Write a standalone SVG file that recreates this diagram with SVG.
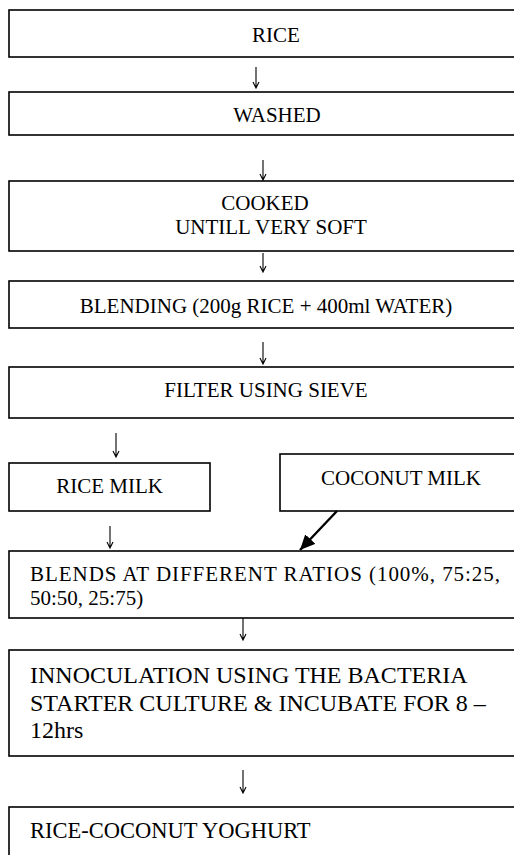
<svg xmlns="http://www.w3.org/2000/svg" width="514" height="855" viewBox="0 0 514 855">
<style>
  .box { fill: #ffffff; stroke: #000000; stroke-width: 1.6; }
  .t { font-family: "Liberation Serif", "Times New Roman", serif; font-size: 21px; fill: #000000; }
  .c { text-anchor: middle; }
  .big { font-size: 24px; }
  .mid { font-size: 22.5px; }
  .arr { fill: none; stroke: #000000; stroke-width: 1.1; }
  .thick { fill: none; stroke: #000000; stroke-width: 2.4; }
</style>
<defs>
  <marker id="head" markerUnits="userSpaceOnUse" markerWidth="16" markerHeight="14" refX="15" refY="7" orient="auto">
    <path d="M0,0 L15,7 L0,14 Z" fill="#000000"/>
  </marker>
</defs>
<rect width="514" height="855" fill="#ffffff"/>
<g id="rice">
  <rect class="box" x="9" y="10" width="530" height="47"/>
  <text class="t c" x="276" y="42">RICE</text>
</g>
<g id="washed">
  <rect class="box" x="9" y="92" width="530" height="43"/>
  <text class="t c" x="277" y="122">WASHED</text>
</g>
<g id="cooked">
  <rect class="box" x="9" y="181" width="530" height="70"/>
  <text class="t c" x="265" y="210">COOKED</text>
  <text class="t c" x="271" y="234">UNTILL VERY SOFT</text>
</g>
<g id="blending">
  <rect class="box" x="9" y="281" width="530" height="47"/>
  <text class="t c" x="266" y="313">BLENDING (200g RICE + 400ml WATER)</text>
</g>
<g id="filter">
  <rect class="box" x="9" y="367" width="530" height="51"/>
  <text class="t c" x="266" y="397">FILTER USING SIEVE</text>
</g>
<g id="rice-milk">
  <rect class="box" x="9" y="463" width="201" height="48"/>
  <text class="t c" x="109.5" y="493">RICE MILK</text>
</g>
<g id="coconut-milk">
  <rect class="box" x="280" y="454" width="260" height="57"/>
  <text class="t c" x="401" y="485">COCONUT MILK</text>
</g>
<g id="blends">
  <rect class="box" x="9" y="551" width="530" height="67"/>
  <text class="t" x="30" y="581" textLength="470" lengthAdjust="spacing">BLENDS AT DIFFERENT RATIOS (100%, 75:25,</text>
  <text class="t" x="30" y="605">50:50, 25:75)</text>
</g>
<g id="inoculation">
  <rect class="box" x="9" y="650" width="530" height="106"/>
  <text class="t big" x="30" y="683">INNOCULATION USING THE BACTERIA</text>
  <text class="t big" x="30" y="711">STARTER CULTURE &amp; INCUBATE FOR 8 –</text>
  <text class="t big" x="30" y="738">12hrs</text>
</g>
<g id="yoghurt">
  <rect class="box" x="9" y="807" width="530" height="70"/>
  <text class="t mid" x="30" y="838">RICE-COCONUT YOGHURT</text>
</g>
<g id="connectors">
  <path class="arr" d="M256,67 V88 M253,82 L256,88 L259,82"/>
  <path class="arr" d="M263,160 V180 M260,174 L263,180 L266,174"/>
  <path class="arr" d="M263,253 V272 M260,266 L263,272 L266,266"/>
  <path class="arr" d="M263,342 V364 M260,358 L263,364 L266,358"/>
  <path class="arr" d="M116,433 V457 M113,451 L116,457 L119,451"/>
  <path class="arr" d="M110,526 V548 M107,542 L110,548 L113,542"/>
  <path class="arr" d="M243,618 V640 M240,634 L243,640 L246,634"/>
  <path class="arr" d="M243,770 V793 M240,787 L243,793 L246,787"/>
  <path class="thick" d="M337,511 L300,550" marker-end="url(#head)"/>
</g>
</svg>
